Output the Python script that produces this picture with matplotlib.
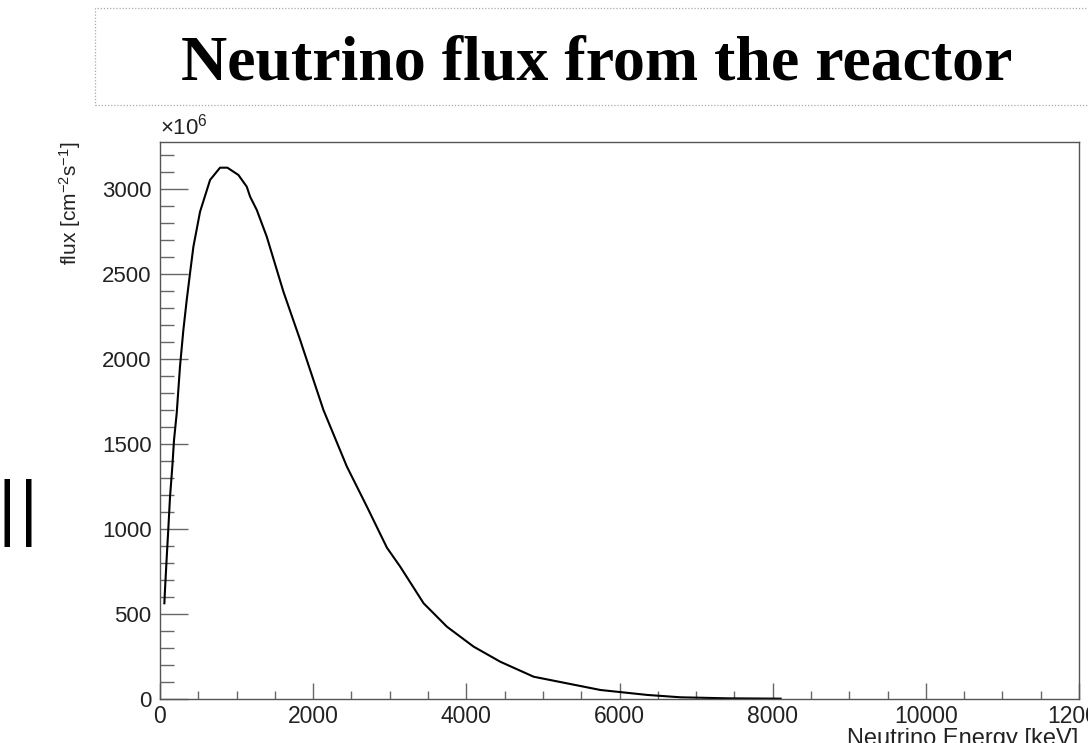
import numpy as np
import matplotlib
matplotlib.use("Agg")
import matplotlib.pyplot as plt
from matplotlib.patches import Rectangle
from matplotlib.ticker import MultipleLocator

# values (energy in keV, flux in 1e6 cm^-2 s^-1)
energy_kev = [57, 65, 87, 109, 131, 161, 183, 218, 261, 305, 349, 392, 436, 523,
              654, 784, 880, 1024, 1133, 1176, 1264, 1394, 1612, 1830, 1873, 2134,
              2440, 2702, 2963, 3137, 3442, 3747, 4095, 4444, 4879, 5315, 5751,
              6361, 6797, 7407, 8104]
flux = [563, 641, 827, 1004, 1190, 1367, 1523, 1680, 1955, 2170, 2347, 2504, 2660, 2866,
        3053, 3125, 3125, 3082, 3013, 2955, 2876, 2719, 2395, 2112, 2053, 1700,
        1367, 1131, 890, 778, 563, 425, 308, 219, 131, 92, 53,
        24, 10, 4, 2]

title = "Neutrino flux from the reactor"
xlabel = "Neutrino Energy [keV]"
ylabel = r"flux [cm$^{-2}$s$^{-1}$]"

plt.rcParams['font.family'] = ['Liberation Sans', 'DejaVu Sans']
plt.rcParams['mathtext.fontset'] = 'custom'
plt.rcParams['mathtext.rm'] = 'Liberation Sans'
plt.rcParams['mathtext.it'] = 'Liberation Sans:italic'

W, H = 1088, 743
fig = plt.figure(figsize=(W / 100, H / 100), dpi=100)
ax = fig.add_axes([160 / W, 1 - 699 / H, 919 / W, 557 / H])

ax.plot(energy_kev, flux, color='black', lw=1.5)
ax.set_xlim(0, 12000)
ax.set_ylim(0, 3276)

ax.xaxis.set_major_locator(MultipleLocator(2000))
ax.xaxis.set_minor_locator(MultipleLocator(500))
ax.yaxis.set_major_locator(MultipleLocator(500))
ax.yaxis.set_minor_locator(MultipleLocator(100))

frame_col = '#555555'
for s in ax.spines.values():
    s.set_color(frame_col)
    s.set_linewidth(1.0)

ax.tick_params(axis='both', which='both', direction='in', colors='#666666',
               labelcolor='#222222', top=False, right=False)
ax.tick_params(axis='y', which='major', length=20, width=1.0, pad=6, labelsize=16)
ax.tick_params(axis='y', which='minor', length=10, width=1.0)
ax.tick_params(axis='x', which='major', length=11.5, width=1.0, pad=4, labelsize=16.5)
ax.tick_params(axis='x', which='minor', length=6, width=1.0)

# exponent marker like ROOT
ax.text(0, 1.004, r"$\times$10$^{6}$", transform=ax.transAxes, ha='left', va='bottom',
        fontsize=16, color='#222222')

# axis titles, ROOT style (right/top aligned)
fig.text(70 / W, 1 - 142 / H, ylabel, rotation=90, ha='center', va='top',
         fontsize=15, color='#222222')
fig.text(1078 / W, 1 - 728 / H, xlabel, ha='right', va='top', fontsize=17, color='#222222')

# title box
fig.add_artist(Rectangle((95 / W, 1 - 105 / H), 1.0, 97 / H, transform=fig.transFigure,
                         fill=False, ec='#aaaaaa', lw=0.9, ls=(0, (1, 1.5))))
fig.text(597 / W, 1 - 80 / H, title, ha='center', va='baseline', fontsize=46,
         fontweight='bold', family=['Liberation Serif', 'DejaVu Serif'])

# stray marker on the left edge
fig.text(18 / W, 1 - 531 / H, "||", ha='center', va='baseline', fontsize=48,
         family=['DejaVu Sans'])

fig.savefig("out.png", dpi=100)
